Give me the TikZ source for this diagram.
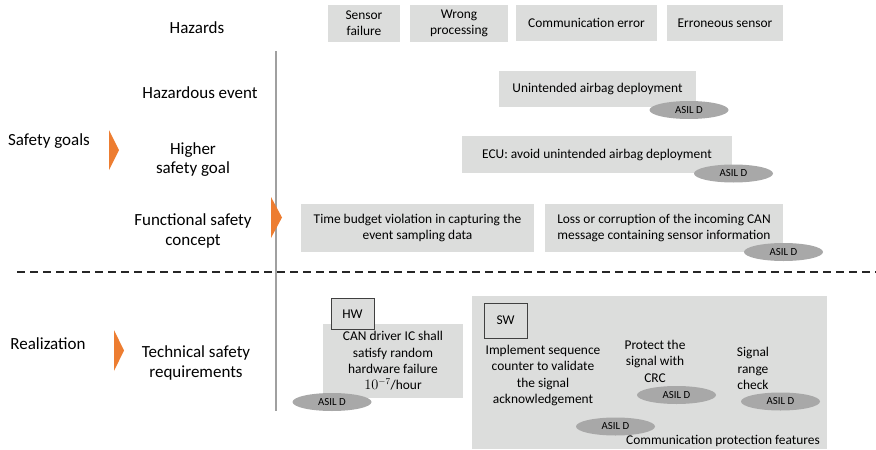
\documentclass[tikz,border=0pt]{standalone}
\usepackage{fontspec}
\setmainfont{Carlito}
\usetikzlibrary{shapes.geometric}

\definecolor{boxgray}{HTML}{DCDDDC}
\definecolor{asilgray}{HTML}{A8A8A8}
\definecolor{linegray}{HTML}{A0A0A0}
\definecolor{safeorange}{HTML}{ED7D31}

\tikzset{
  box/.style={fill=boxgray, align=center, inner sep=0pt, font=\fontsize{13.4}{16.3}\selectfont},
  asil/.style={ellipse, fill=asilgray, minimum width=79pt, minimum height=18pt, inner sep=0pt, font=\fontsize{10.8}{12}\selectfont},
  lbl/.style={align=center, font=\fontsize{17}{19.5}\selectfont},
  txt/.style={align=center, inner sep=0pt, font=\fontsize{13.4}{16.5}\selectfont},
  tag/.style={draw=black!75, fill=boxgray, inner sep=0pt, font=\fontsize{13.4}{15}\selectfont},
  chevron/.style={fill=safeorange}
}

\begin{document}
\begin{tikzpicture}[x=1pt,y=-1pt]
\useasboundingbox (0,0) rectangle (876,450);

% row labels
\node[lbl] (hazards) at (197,28) {Hazards};
\node[lbl] (hazev) at (200,93) {Hazardous event};
\node[lbl] (goals) at (49,141) {Safety goals};
\node[lbl] (higher) at (193,159.5) {Higher\\safety goal};
\node[lbl] (fsc) at (193,231) {Functional safety\\concept};
\node[lbl] (real) at (48,344) {Realization};
\node[lbl] (tsr) at (196,363) {Technical safety\\requirements};

% separators
\draw[linegray, line width=1.6pt] (276,51) -- (276,411);
\draw[black!85, line width=2pt, dash pattern=on 7.5pt off 5.5pt] (17,272) -- (876,272);

% arrows
\fill[chevron] (109,130) -- (119,150) -- (109,170) -- cycle;
\fill[chevron] (271,197) -- (282,217.5) -- (271,238) -- cycle;
\fill[chevron] (114,330) -- (124,350.5) -- (114,371) -- cycle;

% hazards
\node[box, minimum width=72pt, minimum height=37pt] (sensor) at (364,23.5) {Sensor\\failure};
\node[box, minimum width=98pt, minimum height=37pt] (wrong) at (459,23.5) {Wrong\\processing};
\node[box, minimum width=141pt, minimum height=36pt] (comm) at (586.5,23) {Communication error};
\node[box, minimum width=116pt, minimum height=36pt] (erron) at (725,23) {Erroneous sensor};

% goals
\node[box, minimum width=197pt, minimum height=36pt] (unint) at (597.5,89) {Unintended airbag deployment};
\node[asil] (asil1) at (689,110) {ASIL D};
\node[box, minimum width=270pt, minimum height=37pt] (ecu) at (597,154.5) {ECU: avoid unintended airbag deployment};
\node[asil] (asil2) at (733.5,173.5) {ASIL D};

% functional safety concept
\node[box, minimum width=233pt, minimum height=48pt] (budget) at (417.5,228) {Time budget violation in capturing the\\event sampling data};
\node[box, minimum width=238pt, minimum height=48pt] (loss) at (664,228) {Loss or corruption of the incoming CAN\\message containing sensor information};
\node[asil] (asil3) at (783.5,252) {ASIL D};

% hardware requirement
\node[box, minimum width=140pt, minimum height=74pt] (candrv) at (393,361) {CAN driver IC shall\\satisfy random\\hardware failure\\$10^{-7}$/hour};
\node[tag, minimum width=43pt, minimum height=31pt] (hw) at (352.5,314) {HW};
\node[asil] (asil4) at (332,402) {ASIL D};

% software requirements
\node[box, minimum width=355pt, minimum height=153pt] (swbox) at (649.5,372.5) {};
\node[tag, minimum width=43pt, minimum height=35pt] (sw) at (505.5,320.5) {SW};
\node[txt] (seq) at (543,375.5) {Implement sequence\\counter to validate\\the signal\\acknowledgement};
\node[txt] (crc) at (655,361) {Protect the\\signal with\\CRC};
\node[txt] (range) at (753,368.5) {Signal\\range\\check};
\node[asil] (asil5) at (676.5,395) {ASIL D};
\node[asil] (asil6) at (780.5,401.5) {ASIL D};
\node[asil] (asil7) at (615.5,426.5) {ASIL D};
\node[txt] (feat) at (723,440.5) {Communication protection features};

\end{tikzpicture}
\end{document}
